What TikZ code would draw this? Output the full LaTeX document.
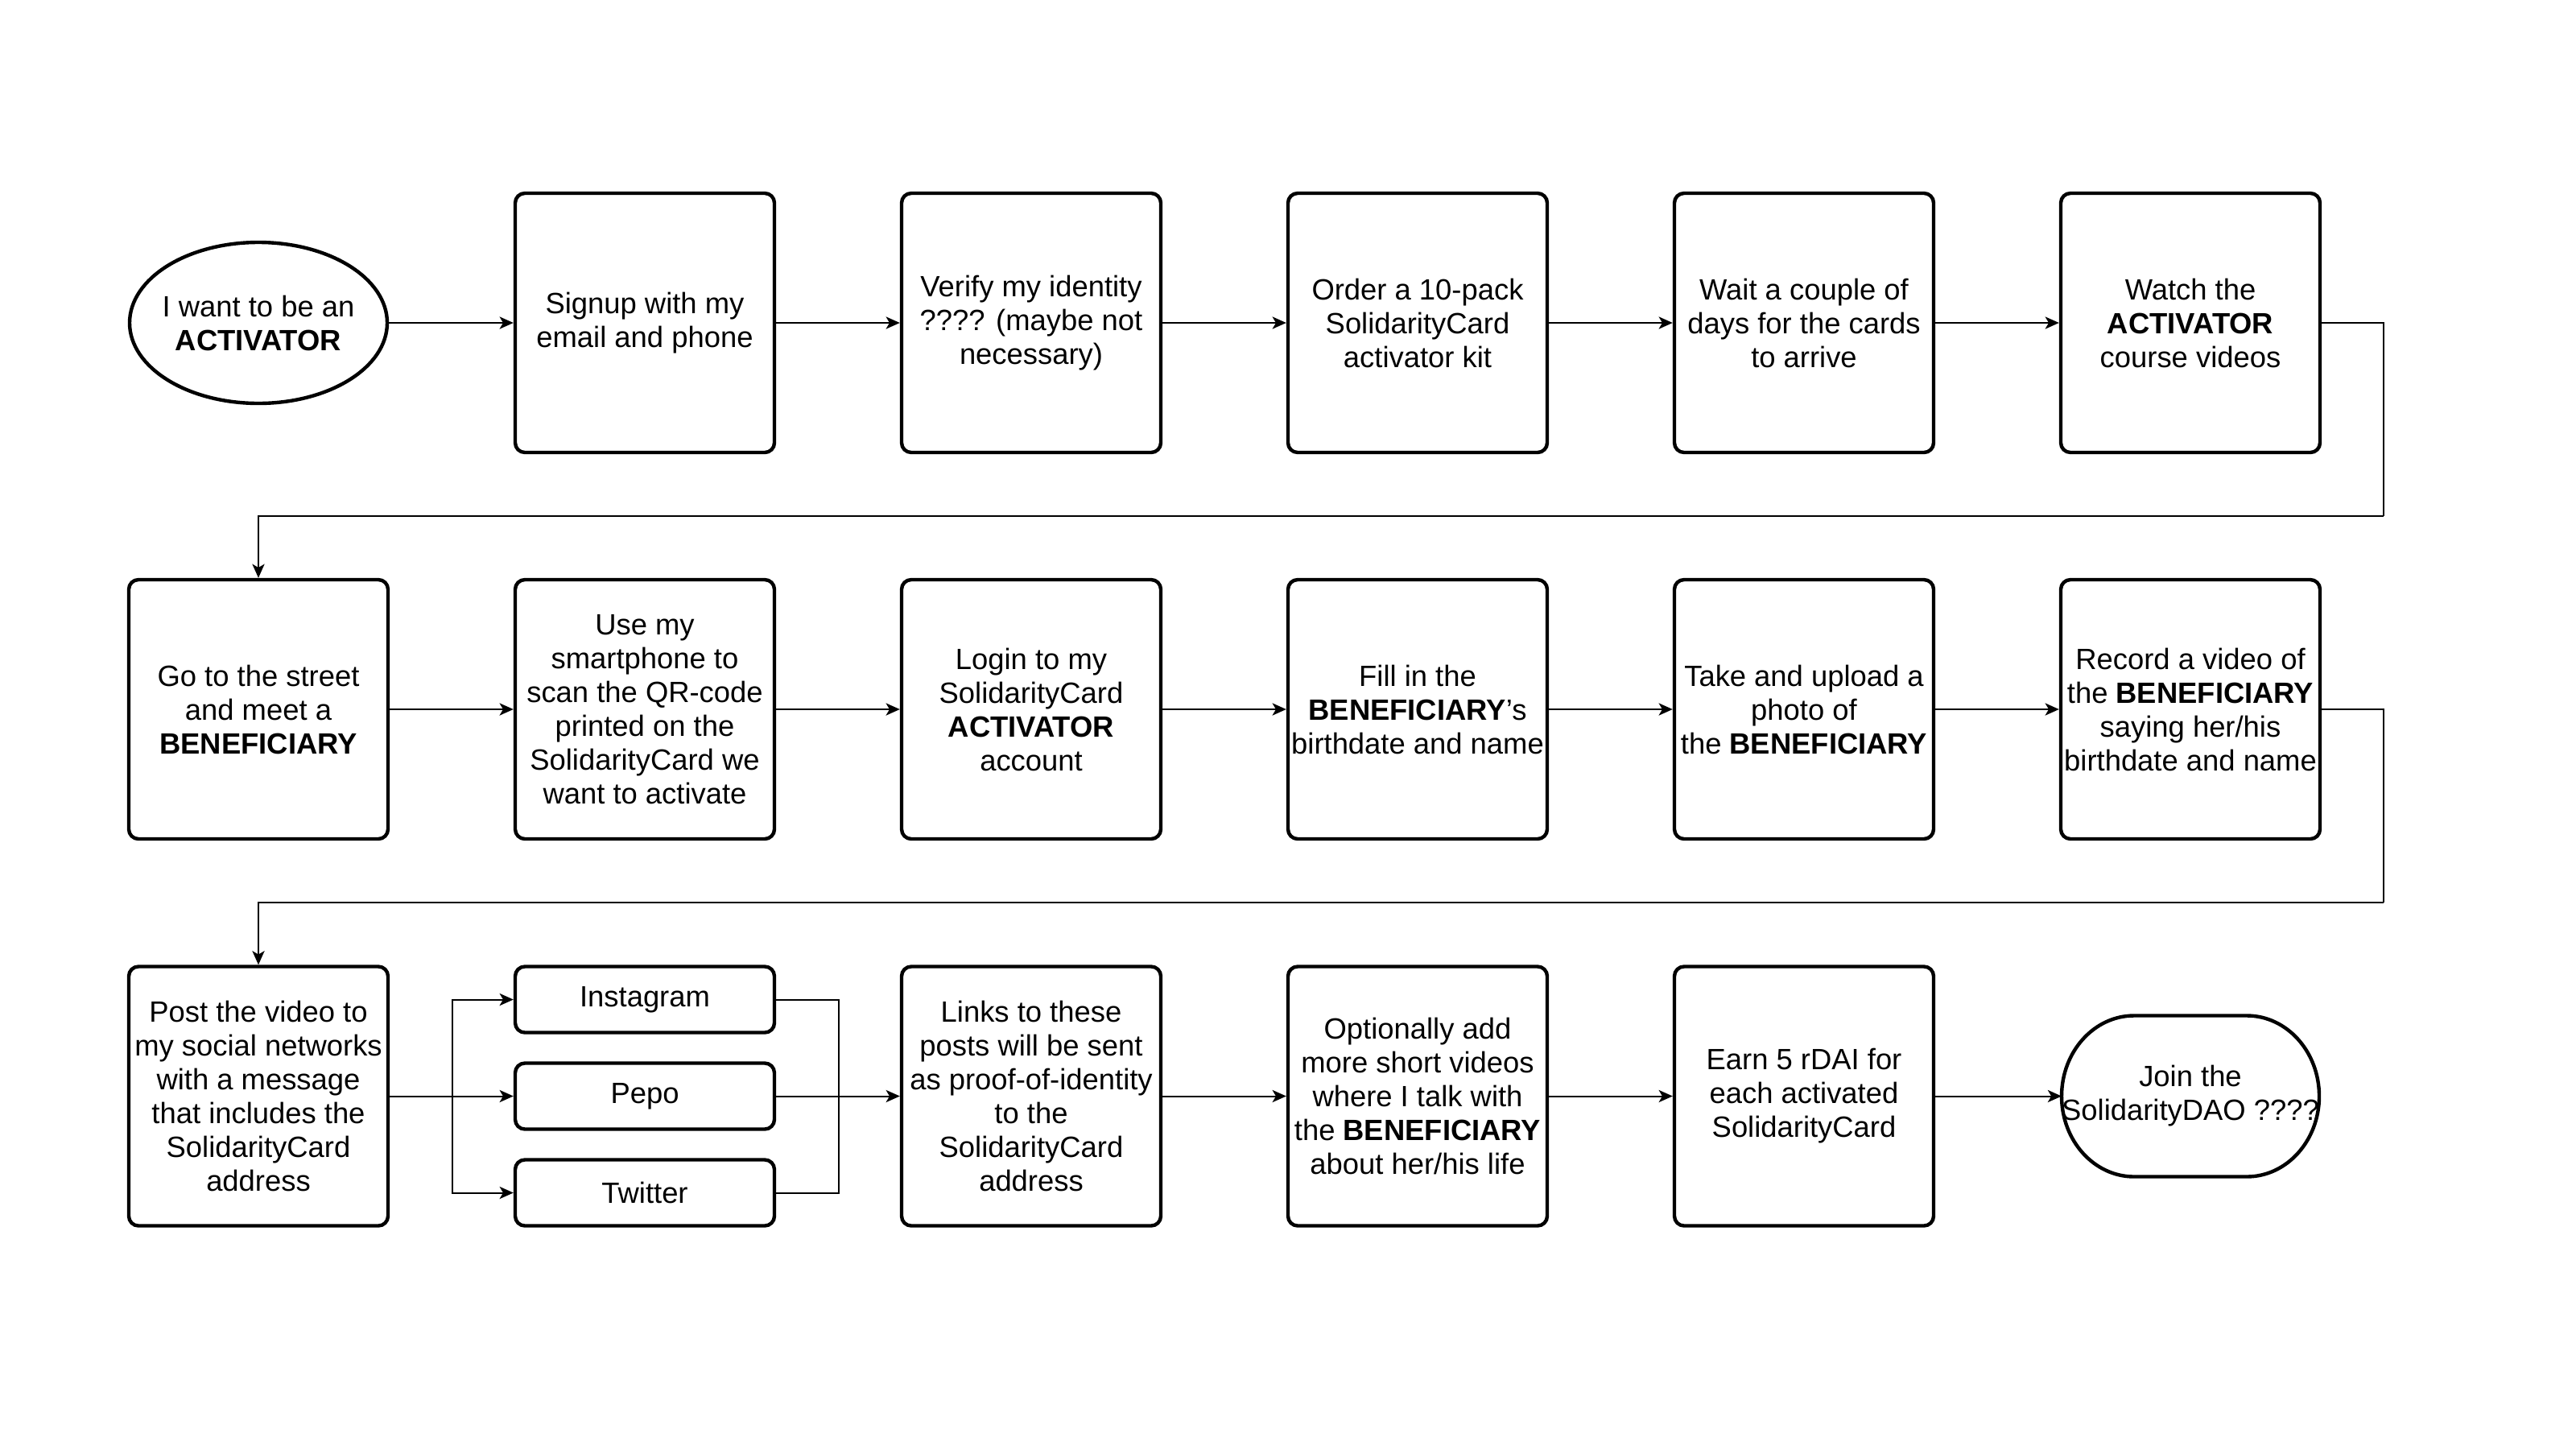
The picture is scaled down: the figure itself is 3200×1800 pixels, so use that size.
\documentclass[tikz,border=0pt]{standalone}
\usepackage{fontspec}
\setmainfont{Liberation Sans}
\usetikzlibrary{shapes.geometric,arrows.meta}
\begin{document}
\begin{tikzpicture}[x=0.25pt,y=-0.25pt,
  every node/.style={font=\fontsize{9.1pt}{10.5pt}\selectfont, align=center, inner sep=0pt},
  stepbox/.style={draw, line width=1.1pt, rounded corners=3pt, minimum width=80.5pt, minimum height=80.5pt},
  smallbox/.style={draw, line width=1.1pt, rounded corners=3pt, minimum width=80.5pt, minimum height=20.5pt},
  plainnode/.style={minimum width=80pt, minimum height=50pt},
  shapeline/.style={line width=1.1pt},
  arr/.style={draw, line width=0.5pt, -{Stealth[length=4.3pt,width=3.8pt,inset=1.1pt]}},
  ln/.style={draw, line width=0.5pt}]
\useasboundingbox (0,0) rectangle (3200,1800);
% row 1
\node[plainnode] (start) at (321,401) {I want to be an\\\textbf{ACTIVATOR}};
\draw[shapeline] (start.center) ellipse[x radius=40pt, y radius=25pt];
\node[stepbox] (a2) at (801,401) {Signup with my\\email and phone};
\node[stepbox] (a3) at (1281,401) {Verify my identity\\???? (maybe not\\necessary)};
\node[stepbox] (a4) at (1761,401) {Order a 10-pack\\SolidarityCard\\activator kit};
\node[stepbox] (a5) at (2241,401) {Wait a couple of\\days for the cards\\to arrive};
\node[stepbox] (a6) at (2721,401) {Watch the\\\textbf{ACTIVATOR}\\course videos};
% row 2
\node[stepbox] (b1) at (321,881) {Go to the street\\and meet a\\\textbf{BENEFICIARY}};
\node[stepbox] (b2) at (801,881) {Use my\\smartphone to\\scan the QR-code\\printed on the\\SolidarityCard we\\want to activate};
\node[stepbox] (b3) at (1281,881) {Login to my\\SolidarityCard\\\textbf{ACTIVATOR}\\account};
\node[stepbox] (b4) at (1761,881) {Fill in the\\\textbf{BENEFICIARY}'s\\birthdate and name};
\node[stepbox] (b5) at (2241,881) {Take and upload a\\photo of\\the \textbf{BENEFICIARY}};
\node[stepbox] (b6) at (2721,881) {Record a video of\\the \textbf{BENEFICIARY}\\saying her/his\\birthdate and name};
% row 3
\node[stepbox] (c1) at (321,1361.5) {Post the video to\\my social networks\\with a message\\that includes the\\SolidarityCard\\address};
\node[smallbox] (insta) at (801,1241.5) {Instagram};
\node[smallbox] (pepo) at (801,1361.5) {Pepo};
\node[smallbox] (tw) at (801,1481.5) {Twitter};
\node[stepbox] (c3) at (1281,1361.5) {Links to these\\posts will be sent\\as proof-of-identity\\to the\\SolidarityCard\\address};
\node[stepbox] (c4) at (1761,1361.5) {Optionally add\\more short videos\\where I talk with\\the \textbf{BENEFICIARY}\\about her/his life};
\node[stepbox] (c5) at (2241,1361.5) {Earn 5 rDAI for\\each activated\\SolidarityCard};
\node[plainnode] (join) at (2721,1361.5) {Join the\\SolidarityDAO ????};
\draw[shapeline] ([shift={(-70,-100)}]join.center) -- ([shift={(70,-100)}]join.center)
  arc[start angle=90, end angle=-90, x radius=22.5pt, y radius=25pt]
  -- ([shift={(-70,100)}]join.center)
  arc[start angle=270, end angle=90, x radius=22.5pt, y radius=25pt] -- cycle;
% coordinates
\coordinate (t1) at (2961,640.5);
\coordinate (t2) at (2961,1120.5);
\coordinate (sp) at (562,1361.5);
\coordinate (mg) at (1042,1361.5);
\coordinate (jw) at (2561,1361.5);
\coordinate (sw) at (481,401);
% row 1 connectors
\draw[arr] (sw) -- (a2);
\draw[arr] (a2) -- (a3);
\draw[arr] (a3) -- (a4);
\draw[arr] (a4) -- (a5);
\draw[arr] (a5) -- (a6);
\draw[ln] (a6.east) -| (t1);
\draw[arr] (t1) -| (b1.north);
% row 2 connectors
\draw[arr] (b1) -- (b2);
\draw[arr] (b2) -- (b3);
\draw[arr] (b3) -- (b4);
\draw[arr] (b4) -- (b5);
\draw[arr] (b5) -- (b6);
\draw[ln] (b6.east) -| (t2);
\draw[arr] (t2) -| (c1.north);
% row 3 connectors
\draw[arr] (c1.east) -- (pepo.west);
\draw[arr] (sp) |- (insta.west);
\draw[arr] (sp) |- (tw.west);
\draw[ln] (insta.east) -| (mg);
\draw[ln] (tw.east) -| (mg);
\draw[arr] (pepo.east) -- (c3.west);
\draw[arr] (c3) -- (c4);
\draw[arr] (c4) -- (c5);
\draw[arr] (c5) -- (jw);
\end{tikzpicture}
\end{document}
